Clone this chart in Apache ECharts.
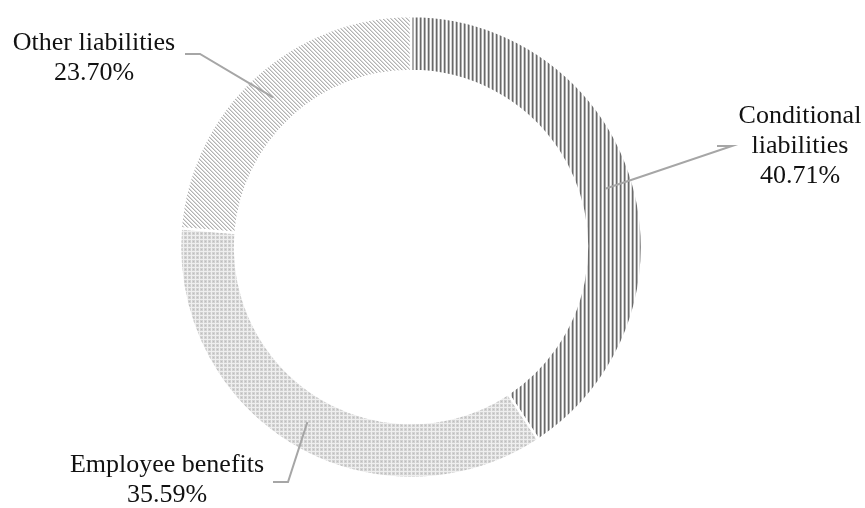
<!DOCTYPE html>
<html>
<head>
<meta charset="utf-8">
<script src="https://cdn.jsdelivr.net/npm/echarts@6/dist/echarts.min.js"></script>
<style>
  html, body { margin: 0; padding: 0; background: #fff; }
  #chart { width: 865px; height: 508px; }
</style>
</head>
<body>
<div id="chart"></div>
<script>
// Liability structure (share of total, %)
const categories = ['Conditional liabilities', 'Employee benefits', 'Other liabilities'];
const labelText = ['Conditional\nliabilities', 'Employee benefits', 'Other liabilities'];
const shares = [40.71, 35.59, 23.70];

// Donut geometry
const CX = 411, CY = 247, R_IN = 176, R_OUT = 231;

// Where each label block sits, and where its leader line bends and ends
const labelPos = [
  { x: 800, y: 146, lineEndX: 717, elbowX: 732, lineY: 146 },
  { x: 167, y: 480, lineEndX: 273, elbowX: 288, lineY: 482 },
  { x: 94, y: 58, lineEndX: 185, elbowX: 200, lineY: 54 }
];

// Hatch fills drawn on small tiles
function tile(w, h, draw) {
  const c = document.createElement('canvas');
  c.width = w; c.height = h;
  const g = c.getContext('2d');
  g.fillStyle = '#ffffff';
  g.fillRect(0, 0, w, h);
  draw(g);
  return c;
}
const verticalHatch = tile(4, 4, g => {
  g.fillStyle = '#6a6a6a'; g.fillRect(0, 0, 1, 4);
  g.fillStyle = '#adadad'; g.fillRect(1, 0, 1, 4);
  g.fillStyle = '#d4d4d4'; g.fillRect(3, 0, 1, 4);
});
const gridHatch = tile(4, 4, g => {
  g.fillStyle = '#d2d2d2'; g.fillRect(0, 0, 4, 4);
  g.fillStyle = '#efefef'; g.fillRect(0, 3, 4, 1); g.fillRect(3, 0, 1, 4);
  g.fillStyle = '#bdbdbd'; g.fillRect(1, 1, 1, 1);
});
const diagHatch = tile(4, 4, g => {
  g.fillStyle = '#b2b2b2';
  for (let i = 0; i < 4; i++) g.fillRect(i, i, 1, 1);
  g.fillStyle = '#dadada';
  for (let i = 0; i < 4; i++) g.fillRect((i + 1) % 4, i, 1, 1);
});
const fills = [verticalHatch, gridHatch, diagHatch];

// Mid-ring point of each slice, from the share values (start at 12 o'clock, clockwise)
const total = shares.reduce((a, b) => a + b, 0);
function ringPoint(i) {
  let before = 0;
  for (let k = 0; k < i; k++) before += shares[k];
  const frac = (before + shares[i] / 2) / total;
  const ang = frac * Math.PI * 2;
  const r = (R_IN + R_OUT) / 2;
  return [CX + r * Math.sin(ang), CY - r * Math.cos(ang)];
}

// Leader lines run from inside the ring to beside each label
const leaders = labelPos.map((lp, i) => ({
  type: 'polyline',
  z: 100,
  silent: true,
  shape: { points: [ringPoint(i), [lp.elbowX, lp.lineY], [lp.lineEndX, lp.lineY]] },
  style: { stroke: '#a6a6a6', lineWidth: 2, fill: null }
}));

const chart = echarts.init(document.getElementById('chart'), null, { renderer: 'canvas' });
chart.setOption({
  backgroundColor: '#ffffff',
  animation: false,
  graphic: { elements: leaders },
  series: [{
    type: 'pie',
    center: [CX, CY],
    radius: [R_IN, R_OUT],
    startAngle: 90,
    clockwise: true,
    avoidLabelOverlap: false,
    percentPrecision: 2,
    itemStyle: { borderColor: '#ffffff', borderWidth: 2.5 },
    label: {
      show: true,
      position: 'outside',
      fontFamily: '"Liberation Serif", "Times New Roman", serif',
      fontSize: 26,
      lineHeight: 30,
      color: '#111111',
      align: 'center',
      formatter: p => labelText[p.dataIndex] + '\n' + p.percent.toFixed(2) + '%'
    },
    labelLine: { show: false },
    labelLayout: params => {
      const lp = labelPos[params.dataIndex];
      return { x: lp.x, y: lp.y, align: 'center', verticalAlign: 'middle' };
    },
    emphasis: { disabled: true },
    data: categories.map((name, i) => ({
      name,
      value: shares[i],
      itemStyle: { color: { image: fills[i], repeat: 'repeat' } }
    }))
  }]
});
</script>
</body>
</html>
